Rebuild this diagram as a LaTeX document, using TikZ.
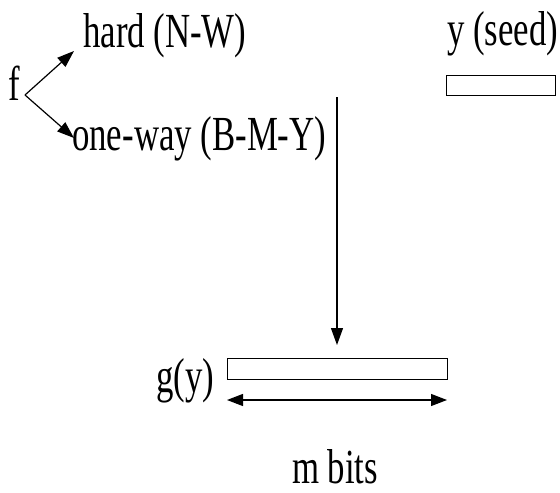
\documentclass[tikz,border=0pt]{standalone}
\usepackage{fontspec}
\setmainfont{Liberation Serif}[FakeStretch=0.71]
\usetikzlibrary{arrows.meta}
\begin{document}
\begin{tikzpicture}[x=1pt,y=-1pt,
  lbl/.style={anchor=base west,inner sep=0pt,font=\fontsize{49}{52}\selectfont},
  bar/.style={draw,line width=1.4pt},
  arr/.style={line width=1.2pt,-{Triangle[length=17pt,width=12pt]}},
  darr/.style={line width=1.2pt,{Triangle[length=16pt,width=12pt]}-{Triangle[length=16pt,width=12pt]}}]
\useasboundingbox (0,0) rectangle (560,493);
\node[lbl] (f) at (8,100) {f};
\node[lbl] (hard) at (83,47) {hard (N-W)};
\node[lbl] (oneway) at (72,150) {one-way (B-M-Y)};
\node[lbl] (seed) at (447,45) {y (seed)};
\node[lbl] (gy) at (156,392) {g(y)};
\node[lbl] (mbits) at (292,483) {m bits};
\coordinate (v) at (25,95);
\coordinate (up) at (74,51);
\coordinate (dn) at (74,138);
\draw[arr] (v) -- (up);
\draw[arr] (v) -- (dn);
\node[bar,minimum width=109pt,minimum height=20pt,inner sep=0pt,anchor=north west] (seedbox) at (446,75) {};
\node[bar,minimum width=220pt,minimum height=21pt,inner sep=0pt,anchor=north west] (gbox) at (227,358) {};
\coordinate (vtop) at (337,97);
\coordinate (vbot) at (337,345);
\draw[arr] (vtop) -- (vbot);
\coordinate (dl) at (227,400);
\coordinate (dr) at (447,400);
\draw[darr] (dl) -- (dr);
\end{tikzpicture}
\end{document}
